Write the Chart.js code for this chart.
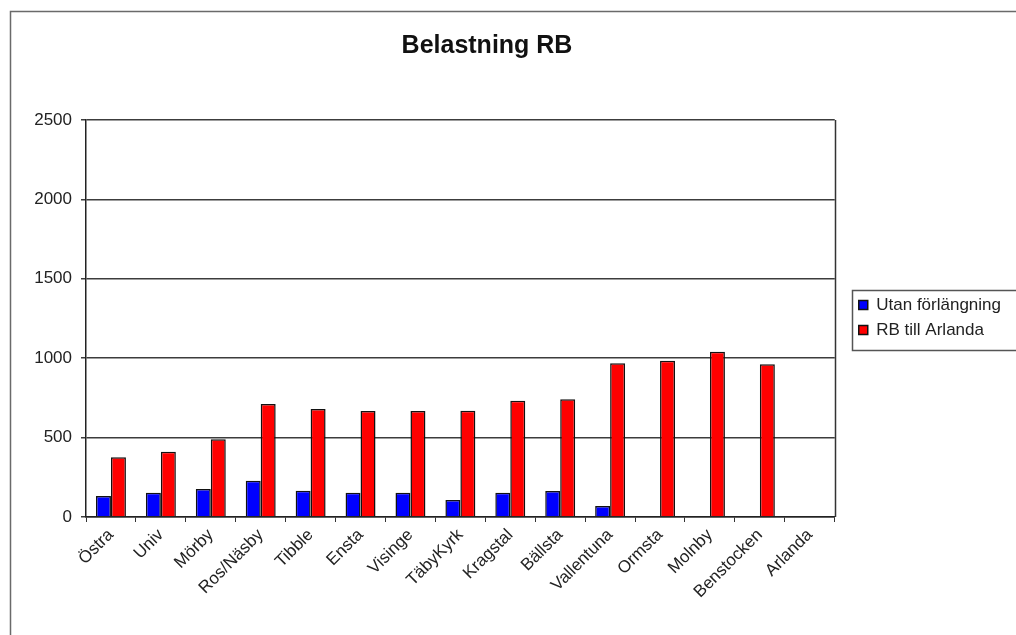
<!DOCTYPE html>
<html>
<head>
<meta charset="utf-8">
<title>Belastning RB</title>
<script src="https://cdn.jsdelivr.net/npm/chart.js"></script>
<style>
  body { margin: 0; background: #fff; }
  #wrap { width: 1016px; height: 635px; position: relative; }
</style>
</head>
<body>
<div id="wrap"><canvas id="myChart"></canvas></div>
<script>
// stations along the line
var stations = ['Östra', 'Univ', 'Mörby', 'Ros/Näsby', 'Tibble', 'Ensta', 'Visinge', 'TäbyKyrk',
                'Kragstal', 'Bällsta', 'Vallentuna', 'Ormsta', 'Molnby', 'Benstocken', 'Arlanda'];

// load per station
var utanForlangning = [132, 153, 176, 229, 166, 153, 153, 107, 153, 164, 69, 4, 4, 0, 0];
var rbTillArlanda = [376, 411, 489, 712, 680, 668, 668, 669, 732, 741, 968, 984, 1041, 962, 0];

var seriesNames = ['Utan förlängning', 'RB till Arlanda'];
var yMax = 2500;
var yStep = 500;

var font = 'Liberation Sans, Arial, sans-serif';

// outer frame + plot border + legend frame
var framePlugin = {
    id: 'frames',
    beforeDraw: function(chart) {
        var c = chart.ctx;
        c.save();
        c.fillStyle = '#fff';
        c.fillRect(0, 0, chart.width, chart.height);
        c.strokeStyle = '#6a6a6a';
        c.lineWidth = 1.5;
        c.strokeRect(10.5, 11.5, chart.width + 20, chart.height + 20);
        c.restore();
    },
    afterLayout: function(chart) {
        var lg = chart.legend;
        var w = lg.width;
        lg.left = chart.chartArea.right + 16;
        lg.right = lg.left + w;
        // title sits a bit left of the full width centre
        chart.titleBlock.right = chart.titleBlock.left + 974;
    },
    afterDraw: function(chart) {
        var c = chart.ctx;
        var a = chart.chartArea;
        c.save();
        c.strokeStyle = '#333';
        c.lineWidth = 1.5;
        c.beginPath();
        c.moveTo(Math.round(a.right) + 0.5, a.top);
        c.lineTo(Math.round(a.right) + 0.5, a.bottom);
        c.stroke();

        var lg = chart.legend;
        var hb = lg.legendHitBoxes;
        if (hb && hb.length) {
            var pad = lg.options.labels.padding;
            var x0 = lg.left + pad - 7;
            var y0 = hb[0].top + hb[0].height / 2 - 15;
            var last = hb[hb.length - 1];
            var y1 = last.top + last.height / 2 + 20;
            c.strokeStyle = '#555';
            c.lineWidth = 1.5;
            c.strokeRect(Math.round(x0) + 0.5, Math.round(y0) + 0.5, chart.width, Math.round(y1 - y0));
        }
        c.restore();
    }
};

var ctx = document.getElementById('myChart').getContext('2d');
var chart = new Chart(ctx, {
    type: 'bar',
    data: {
        labels: stations,
        datasets: [{
            label: seriesNames[0],
            data: utanForlangning,
            backgroundColor: '#0000ff',
            borderColor: '#111',
            borderWidth: 1.5,
            categoryPercentage: 0.6,
            barPercentage: 1.0
        },
        {
            label: seriesNames[1],
            data: rbTillArlanda,
            backgroundColor: '#ff0000',
            borderColor: '#111',
            borderWidth: 1.5,
            categoryPercentage: 0.6,
            barPercentage: 1.0
        }]
    },
    options: {
        responsive: true,
        maintainAspectRatio: false,
        animation: false,
        layout: { padding: { left: 0, top: 0, right: 21, bottom: 0 } },
        plugins: {
            title: {
                display: true,
                text: 'Belastning RB',
                color: '#111',
                font: { family: font, size: 25, weight: 'bold' },
                padding: { top: 31, bottom: 59 }
            },
            legend: {
                position: 'right',
                labels: {
                    boxWidth: 9,
                    boxHeight: 9,
                    padding: 8,
                    color: '#222',
                    font: { family: font, size: 17 }
                }
            },
            tooltip: { enabled: false }
        },
        scales: {
            x: {
                offset: true,
                grid: {
                    offset: true,
                    drawOnChartArea: false,
                    tickLength: 5,
                    color: '#333'
                },
                border: { color: '#222', width: 1.5 },
                ticks: {
                    autoSkip: false,
                    minRotation: 45,
                    maxRotation: 45,
                    padding: 3,
                    color: '#222',
                    font: { family: font, size: 17 }
                },
                afterFit: function(scale) { scale.height = 118; }
            },
            y: {
                min: 0,
                max: yMax,
                grid: {
                    color: '#3c3c3c',
                    lineWidth: 1.5,
                    tickLength: 5
                },
                border: { color: '#222', width: 1.5 },
                ticks: {
                    stepSize: yStep,
                    padding: 9,
                    color: '#222',
                    font: { family: font, size: 17 },
                    callback: function(v) { return String(v); }
                },
                afterFit: function(scale) { scale.width = 86; }
            }
        }
    },
    plugins: [framePlugin]
});
</script>
</body>
</html>
